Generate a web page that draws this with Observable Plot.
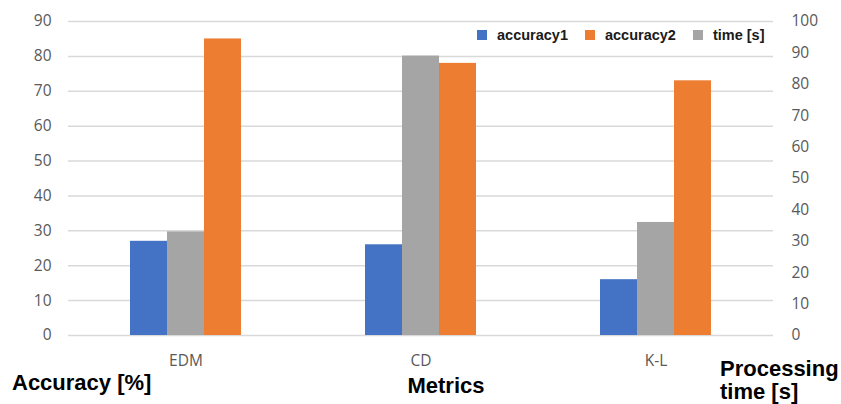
<!DOCTYPE html>
<html>
<head>
<meta charset="utf-8">
<script src="https://cdn.jsdelivr.net/npm/d3@7"></script>
<script src="https://cdn.jsdelivr.net/npm/@observablehq/plot@0.6"></script>
<style>
  body { margin: 0; background: #fff; }
  #chart { position: relative; width: 841px; height: 404px; overflow: hidden; font-family: "Liberation Sans", Arial, sans-serif; }
  #chart > svg { position: absolute; left: 0; top: 0; }
  .title { position: absolute; font-weight: bold; font-size: 22px; line-height: 25px; color: #000; white-space: nowrap; }
  #legend { position: absolute; left: 477px; top: 27px; }
  .lg-swatches { min-height: 0 !important; margin: 0 !important; font: bold 14.5px "Liberation Sans", Arial, sans-serif !important; color: #1a1a1a !important; }
  .lg-swatch { margin-right: 17px !important; }
  .lg-swatch > svg { margin-right: 10px !important; }
</style>
</head>
<body>
<div id="chart"></div>
<script>
// Metrics compared and the three measured series
const metrics = ["EDM", "CD", "K-L"];
const accuracy1 = [27, 26, 16];   // %
const accuracy2 = [85, 78, 73];   // %
const timeSec = [33, 89, 36];     // seconds, read on the right axis

const seriesNames = ["accuracy1", "accuracy2", "time [s]"];
const seriesColors = ["#4472c4", "#ed7d31", "#a5a5a5"];
const barOrder = ["accuracy1", "time [s]", "accuracy2"];

const accuracyTicks = d3.range(0, 91, 10);
const timeTicks = d3.range(0, 101, 10);

// The time axis (0–100 s) shares the plot height with the accuracy axis (0–90 %)
const timeToAccuracy = 90 / 100;

const rows = metrics.flatMap((m, i) => [
  {metric: m, series: "accuracy1", y: accuracy1[i]},
  {metric: m, series: "accuracy2", y: accuracy2[i]},
  {metric: m, series: "time [s]", y: timeSec[i] * timeToAccuracy}
]);

const chart = Plot.plot({
  width: 841,
  height: 404,
  marginLeft: 67,
  marginRight: 68,
  marginTop: 21,
  marginBottom: 69,
  style: {fontFamily: "'Open Sans', sans-serif", fontSize: "15.5px", color: "#595959", background: "transparent"},
  fx: {domain: metrics, padding: 0, label: null},
  x: {domain: barOrder, paddingInner: 0, paddingOuter: 1.62, axis: null},
  y: {domain: [0, 90]},
  color: {domain: seriesNames, range: seriesColors},
  marks: [
    Plot.gridY(accuracyTicks, {stroke: "#d9d9d9", strokeOpacity: 1, strokeWidth: 1.5}),
    Plot.barY(rows, {fx: "metric", x: "series", y: "y", fill: "series"}),
    Plot.axisY(accuracyTicks, {anchor: "left", tickSize: 0, tickPadding: 17, label: null}),
    Plot.axisY(timeTicks, {
      anchor: "right", y: (d) => d * timeToAccuracy, tickFormat: (d) => String(d),
      tickSize: 0, tickPadding: 18, label: null
    }),
    Plot.axisFx({anchor: "bottom", tickSize: 0, tickPadding: 19, label: null})
  ]
});

const root = document.getElementById("chart");
root.appendChild(chart);

const legend = Plot.legend({
  color: {domain: seriesNames, range: seriesColors},
  legend: "swatches",
  swatchSize: 10,
  className: "lg"
});
const legendBox = document.createElement("div");
legendBox.id = "legend";
legendBox.appendChild(legend);
root.appendChild(legendBox);

function addTitle(html, left, top, center, lineHeight) {
  const d = document.createElement("div");
  d.className = "title";
  d.innerHTML = html;
  d.style.left = left + "px";
  d.style.top = top + "px";
  if (lineHeight) d.style.lineHeight = lineHeight + "px";
  if (center) d.style.transform = "translateX(-50%)";
  root.appendChild(d);
}
addTitle("Accuracy [%]", 12, 370, false);
addTitle("Metrics", 446, 373, true);
addTitle("Processing<br>time [s]", 720, 357, false, 23);
</script>
</body>
</html>
